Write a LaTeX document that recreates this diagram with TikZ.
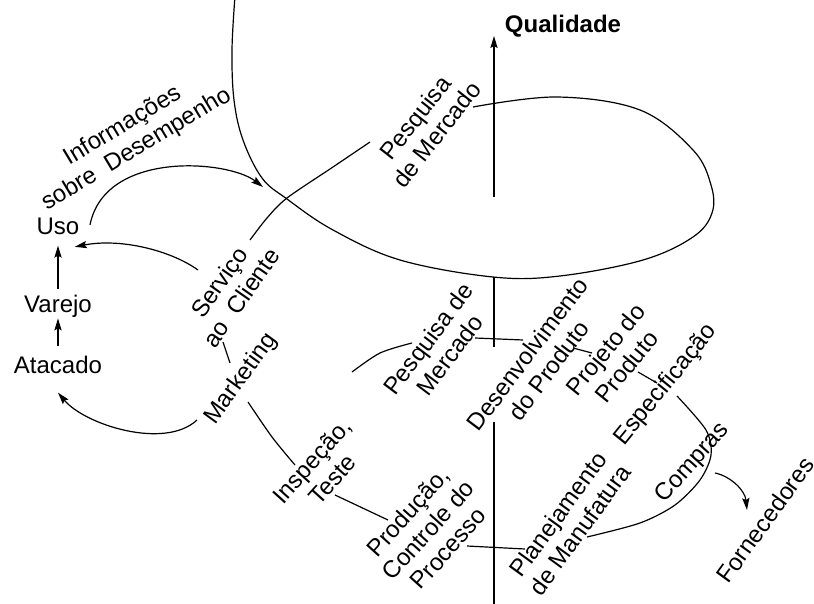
\documentclass[tikz,border=0pt]{standalone}
\usepackage{fontspec}
\setmainfont{Liberation Sans}
\usetikzlibrary{arrows.meta,calc}
\tikzset{
  lbl/.style={font=\fontsize{12}{13.5}\selectfont, align=center, inner sep=0pt},
  curve/.style={line width=0.6pt},
  arr/.style={line width=0.6pt, -{Stealth[length=6pt,width=3.6pt,inset=1pt]}},
}
\begin{document}
\begin{tikzpicture}[x=0.5pt,y=-0.5pt]
\useasboundingbox (0,0) rectangle (814,604);

% stage labels around the spiral
\node[lbl, rotate=31] (info) at (130,138) {Informações\\sobre\ \ Desempenho};
\node[lbl, rotate=52] (pesqA) at (426,126) {Pesquisa\\de Mercado};
\node[lbl, rotate=55] (serv) at (230,290) {Serviço\\ao\ \ Cliente};
\node[lbl, rotate=54] (mkt) at (241,379) {Marketing};
\node[lbl, rotate=48] (insp) at (322,470) {Inspeção,\\Teste};
\node[lbl, rotate=48] (prod) at (428,530) {Produção,\\Controle do\\Processo};
\node[lbl, rotate=53] (pesqB) at (439,347) {Pesquisa de\\Mercado};
\node[lbl, rotate=53] (desenv) at (538,362) {Desenvolvimento\\do Produto};
\node[lbl, rotate=51] (proj) at (616,358) {Projeto do\\Produto};
\node[lbl, rotate=51] (espec) at (666,385) {Especificação};
\node[lbl, rotate=54] (plan) at (569,522) {Planejamento\\de Manufatura};
\node[lbl, rotate=48] (compras) at (693,463) {Compras};
\node[lbl, rotate=54] (forn) at (765,520) {Fornecedores};

% distribution chain
\node[lbl, anchor=base] (uso) at (58,235) {Uso};
\node[lbl, anchor=base] (varejo) at (58,313) {Varejo};
\node[lbl, anchor=base] (atacado) at (58,373) {Atacado};

% axis label
\node[lbl, anchor=base, font=\fontsize{12}{13.5}\selectfont\bfseries] (qual) at (563,33) {Qualidade};

% previous turn of the spiral
\draw[curve] plot[smooth, tension=0.6] coordinates {(235,-4) (232,50) (234,100) (243,140) (262,178) (287,199) (333,230) (400,260) (493,277) (560,276) (643,260) (693,237) (712,213) (711,185) (693,150) (640,110) (557,97) (473,107)};

% current turn of the spiral, broken by the stage labels
\draw[curve] plot[smooth] coordinates {(370,142) (333,167) (287,198) (267,218) (250,240)};
\draw[curve] (223,342) -- (230,363);
\draw[curve] plot[smooth] coordinates {(248,402) (272,437) (295,465)};
\draw[curve] (335,495) -- (388,520);
\draw[curve] (467,546) -- (525,549);
\draw[curve] plot[smooth] coordinates {(587,537) (640,523) (675,505) (700,480) (711,455) (706,430) (677,396)};
\draw[curve] (657,383) -- (638,372);
\draw[curve] (592,353) -- (573,348);
\draw[curve] (523,340) -- (475,338);
\draw[curve] plot[smooth] coordinates {(412,343) (380,353) (352,372)};

% quality axis
\draw[curve] (494,604) -- (494,422);
\draw[curve] (494,347) -- (494,277);
\draw[arr] (494,197) -- (494,36);

% feedback and distribution arrows
\coordinate (spiralIn) at (263,187);
\draw[arr] ($(uso.center)+(32,-2)$) .. controls (105,150) and (228,160) .. (spiralIn);
\draw[arr] ($(serv.center)+(-32,-20)$) .. controls (170,250) and (120,238) .. ($(uso.east)+(-5,20)$);
\draw[arr] ([yshift=3pt]varejo.north) -- ([yshift=-5pt]uso.south);
\draw[arr] ([yshift=4.5pt]atacado.north) -- (varejo.south);
\draw[arr] ($(mkt.center)+(-44,41)$) .. controls (165,450) and (85,425) .. ($(atacado.south)+(0,19)$);
\draw[arr] ($(compras.center)+(22,10)$) .. controls (730,476) and (745,490) .. ($(forn.center)+(-18,-10)$);
\end{tikzpicture}
\end{document}
